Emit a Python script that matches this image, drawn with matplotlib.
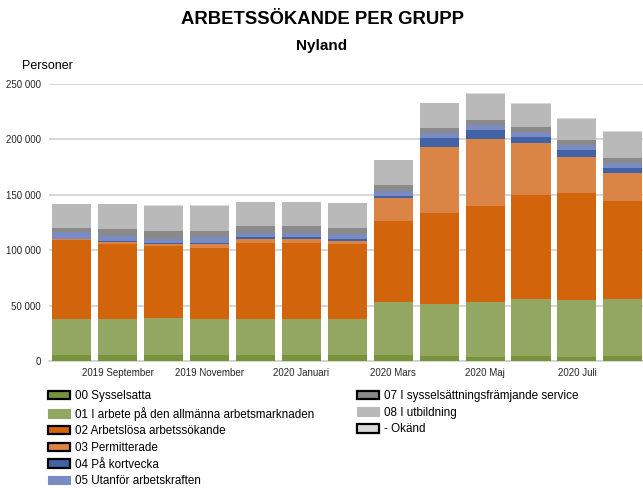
import matplotlib
matplotlib.use("Agg")
import matplotlib.pyplot as plt
from matplotlib.patches import Patch
from matplotlib.ticker import FuncFormatter
import numpy as np

plt.rcParams['font.family'] = ['Liberation Sans', 'DejaVu Sans']

months = ["2019 Augusti", "2019 September", "2019 Oktober", "2019 November", "2019 December",
          "2020 Januari", "2020 Februari", "2020 Mars", "2020 April", "2020 Maj",
          "2020 Juni", "2020 Juli", "2020 Augusti"]

s00 = [5500, 5500, 5500, 5500, 5500, 5500, 5500, 5500, 4500, 3600, 4500, 3600, 4500]
s01 = [32700, 32700, 33600, 32700, 32700, 32700, 32700, 47700, 46900, 49600, 51500, 51500, 51500]
s02 = [70700, 67400, 65000, 64100, 68600, 68600, 67400, 73200, 82200, 86700, 93800, 96500, 88400]
s03 = [900, 2100, 1800, 3600, 3300, 3300, 2700, 20700, 59500, 60500, 46900, 32500, 25300]
s04 = [600, 600, 300, 300, 1800, 1800, 1800, 1800, 7800, 8100, 5500, 6300, 4500]
s05 = [6300, 4800, 4200, 5400, 3600, 3600, 4800, 4500, 4900, 4500, 4500, 4500, 4500]
s07 = [3600, 6000, 7200, 6000, 6300, 6300, 5100, 5400, 4500, 4500, 4500, 4600, 4500]
s08 = [21400, 22600, 22600, 22600, 21700, 21700, 22600, 22600, 22500, 23800, 21000, 19200, 23800]
okand = [400, 400, 400, 400, 400, 400, 400, 400, 500, 600, 500, 500, 500]

series = [
    ("00 Sysselsatta", s00, "#77933c", True),
    ("01 I arbete på den allmänna arbetsmarknaden", s01, "#93a662", False),
    ("02 Arbetslösa arbetssökande", s02, "#d2640c", True),
    ("03 Permitterade", s03, "#da8545", True),
    ("04 På kortvecka", s04, "#4262a6", True),
    ("05 Utanför arbetskraften", s05, "#7a8ac2", False),
    ("07 I sysselsättningsfrämjande service", s07, "#8a8a8a", True),
    ("08 I utbildning", s08, "#bab9b9", False),
    ("- Okänd", okand, "#d9d9d9", True),
]

fig = plt.figure(figsize=(6.43, 4.88), dpi=100)
ax = fig.add_axes([49 / 643, 1 - 361 / 488, 1 - 49 / 643, (361 - 84) / 488])

x = np.arange(len(months))
bottom = np.zeros(len(months))
for name, vals, col, _ in series:
    v = np.array(vals, dtype=float)
    ax.bar(x, v, bottom=bottom, width=0.85, color=col, linewidth=0, zorder=3)
    bottom += v

ax.set_xlim(-0.5, 12.44)
ax.set_ylim(0, 250000)
ax.set_yticks(np.arange(0, 250001, 50000))
ax.yaxis.set_major_formatter(FuncFormatter(lambda v, p: f"{int(v):,}".replace(",", " ")))
ax.set_xticks(x[1::2])
ax.set_xticklabels(months[1::2])
ax.grid(axis='y', color='#d0d0d0', linewidth=1.2, zorder=0)
for sp in ['top', 'right', 'left']:
    ax.spines[sp].set_visible(False)
ax.spines['bottom'].set_color('#d0d0d0')
ax.spines['bottom'].set_linewidth(1.2)
ax.tick_params(axis='both', length=0, labelsize=7, colors='#262626')
ax.tick_params(axis='y', pad=6)
ax.tick_params(axis='x', pad=5)

fig.text(322 / 643, 1 - 19.5 / 488, "ARBETSSÖKANDE PER GRUPP", ha='center', va='center',
         fontsize=13.3, fontweight='bold')
fig.text(322 / 643, 1 - 46 / 488, "Nyland", ha='center', va='center',
         fontsize=11, fontweight='bold')
fig.text(22 / 643, 1 - 66 / 488, "Personer", ha='left', va='center', fontsize=9)

def handles(items):
    hs = []
    for name, vals, col, edge in items:
        hs.append(Patch(facecolor=col, edgecolor='black' if edge else col,
                        linewidth=1.6 if edge else 0.8, label=name))
    return hs

common = dict(frameon=False, fontsize=8.4, handlelength=1.9, handleheight=0.75,
              handletextpad=0.4, labelspacing=0.4, borderpad=0, borderaxespad=0)
leg1 = fig.legend(handles=handles(series[:6]), loc='upper left',
                  bbox_to_anchor=(48 / 643, 1 - 390 / 488), **common)
leg2 = fig.legend(handles=handles(series[6:]), loc='upper left',
                  bbox_to_anchor=(357 / 643, 1 - 390 / 488), **common)

fig.savefig("out.png", dpi=100)
